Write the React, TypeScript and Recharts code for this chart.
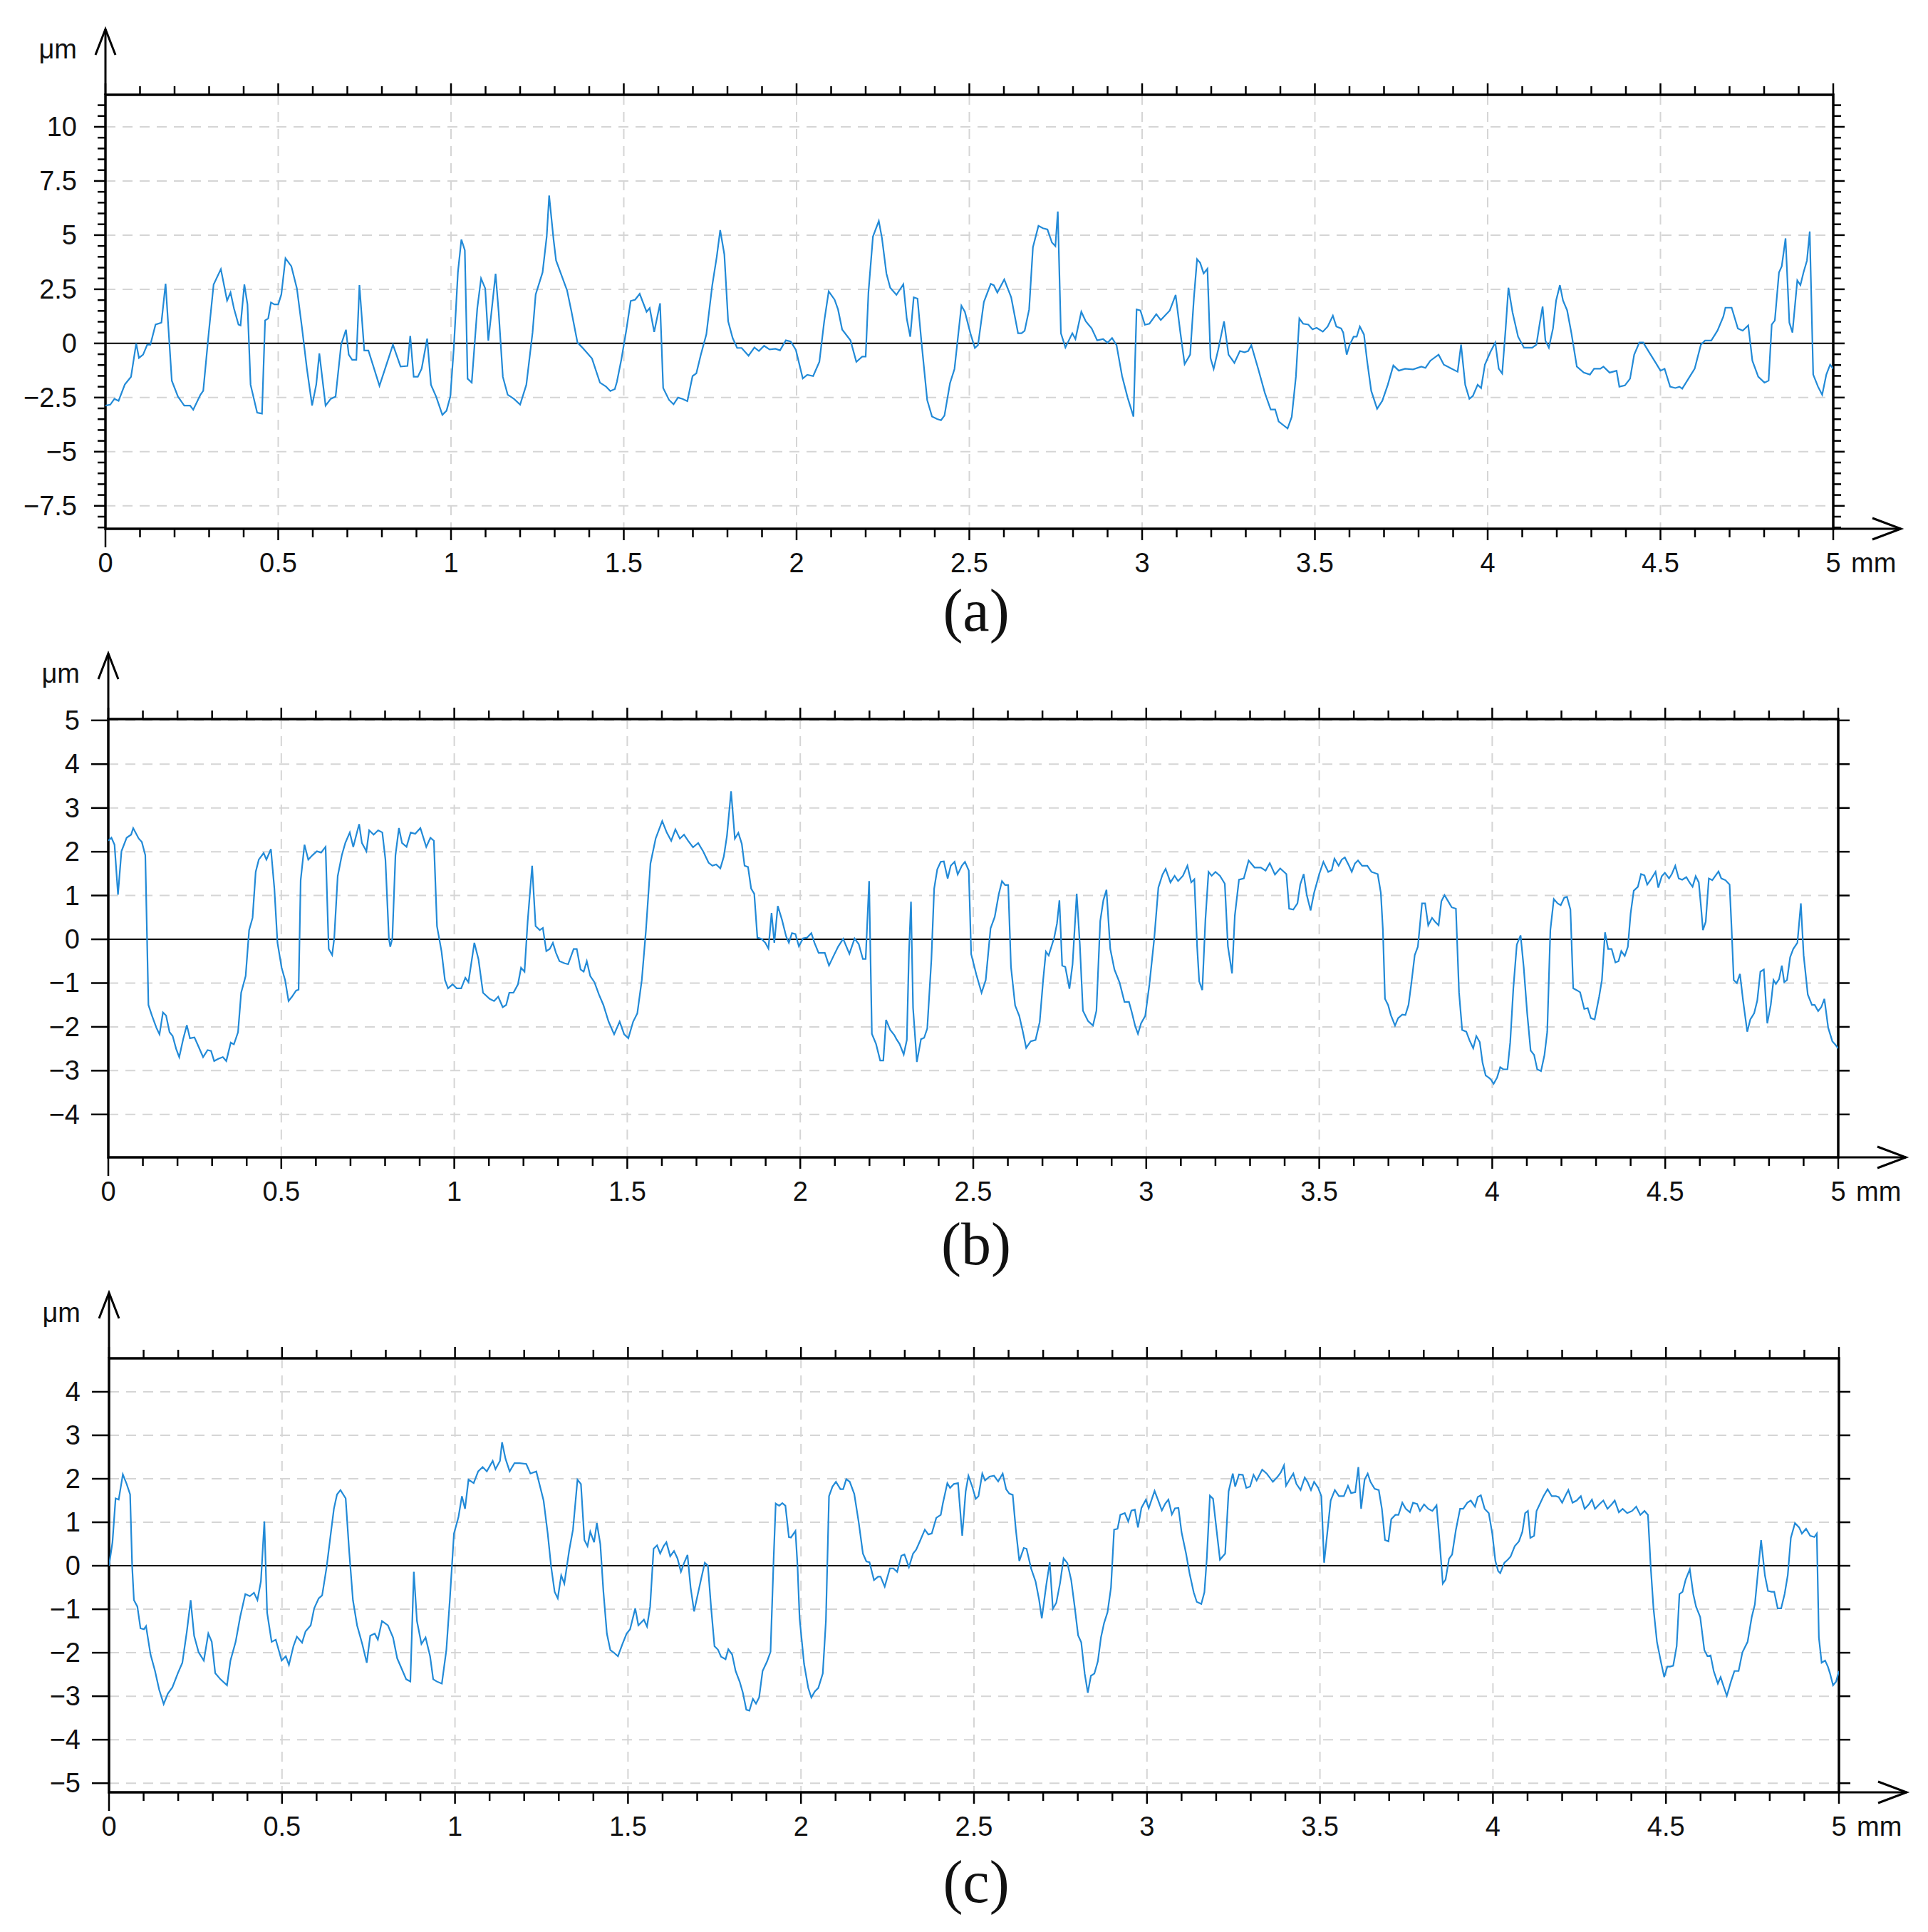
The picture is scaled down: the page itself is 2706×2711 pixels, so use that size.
import React from 'react';
import { LineChart, Line, XAxis, YAxis, CartesianGrid, ReferenceLine, ReferenceArea } from 'recharts';

// ---------------- data ----------------
const xA = [0,0.014,0.026,0.038,0.056,0.074,0.089,0.097,0.109,0.121,0.13,0.145,0.162,0.174,0.192,0.21,0.228,0.245,0.254,0.275,0.283,0.299,0.313,0.334,0.352,0.362,0.372,0.385,0.391,0.402,0.411,0.42,0.439,0.453,0.462,0.471,0.479,0.489,0.5,0.509,0.521,0.538,0.554,0.569,0.583,0.598,0.61,0.619,0.637,0.652,0.666,0.682,0.696,0.704,0.714,0.726,0.735,0.749,0.761,0.793,0.815,0.832,0.854,0.874,0.882,0.892,0.904,0.915,0.931,0.942,0.957,0.975,0.987,0.998,1.008,1.02,1.03,1.04,1.048,1.06,1.076,1.087,1.099,1.108,1.117,1.129,1.138,1.15,1.164,1.182,1.2,1.218,1.236,1.245,1.265,1.277,1.284,1.297,1.304,1.321,1.336,1.348,1.366,1.383,1.408,1.431,1.449,1.461,1.474,1.48,1.493,1.507,1.52,1.533,1.546,1.566,1.575,1.588,1.605,1.614,1.631,1.644,1.657,1.67,1.684,1.699,1.71,1.723,1.739,1.756,1.769,1.779,1.791,1.802,1.815,1.828,1.841,1.861,1.878,1.891,1.906,1.922,1.939,1.952,1.969,1.983,1.998,2.018,2.031,2.048,2.066,2.08,2.093,2.11,2.12,2.132,2.156,2.173,2.19,2.2,2.208,2.221,2.238,2.247,2.26,2.271,2.289,2.309,2.319,2.329,2.339,2.35,2.361,2.378,2.392,2.407,2.418,2.428,2.444,2.457,2.477,2.487,2.503,2.516,2.525,2.542,2.562,2.571,2.581,2.601,2.621,2.641,2.651,2.66,2.673,2.684,2.7,2.713,2.726,2.739,2.749,2.756,2.765,2.778,2.798,2.807,2.824,2.837,2.854,2.87,2.887,2.9,2.913,2.926,2.942,2.958,2.975,2.984,2.995,3.008,3.021,3.041,3.054,3.08,3.097,3.11,3.123,3.139,3.15,3.159,3.168,3.178,3.189,3.198,3.207,3.22,3.237,3.25,3.267,3.283,3.296,3.307,3.316,3.336,3.355,3.372,3.385,3.395,3.421,3.433,3.445,3.455,3.466,3.481,3.493,3.505,3.523,3.537,3.552,3.562,3.576,3.582,3.592,3.6,3.612,3.621,3.63,3.642,3.651,3.663,3.68,3.695,3.711,3.727,3.743,3.761,3.784,3.808,3.82,3.834,3.858,3.873,3.891,3.913,3.923,3.935,3.947,3.957,3.971,3.981,3.992,4.008,4.022,4.032,4.042,4.052,4.06,4.072,4.088,4.105,4.129,4.141,4.151,4.159,4.167,4.177,4.189,4.198,4.209,4.218,4.23,4.242,4.258,4.278,4.296,4.308,4.326,4.335,4.353,4.373,4.381,4.397,4.412,4.424,4.439,4.45,4.468,4.486,4.5,4.512,4.528,4.543,4.555,4.563,4.581,4.599,4.617,4.629,4.647,4.665,4.682,4.688,4.706,4.724,4.738,4.754,4.766,4.783,4.801,4.813,4.822,4.831,4.843,4.851,4.862,4.873,4.882,4.896,4.905,4.914,4.924,4.932,4.942,4.956,4.968,4.98,4.991,5.0];
const yA = [-2.87,-2.83,-2.56,-2.65,-1.9,-1.54,0,-0.67,-0.52,-0.06,-0.06,0.87,0.96,2.76,-1.72,-2.46,-2.87,-2.87,-3.06,-2.37,-2.19,0.5,2.72,3.43,1.98,2.35,1.61,0.87,0.83,2.72,1.8,-1.91,-3.2,-3.24,1.06,1.15,1.89,1.8,1.8,2.26,3.93,3.56,2.54,0.69,-1.17,-2.87,-1.9,-0.46,-2.87,-2.56,-2.46,-0.06,0.63,-0.52,-0.76,-0.76,2.69,-0.33,-0.33,-1.96,-0.89,-0.06,-1.07,-1.04,0.35,-1.54,-1.54,-1.17,0.22,-1.91,-2.46,-3.3,-3.11,-2.46,-0.24,3.28,4.8,4.3,-1.63,-1.81,1.61,3.0,2.54,0.13,1.43,3.22,1.43,-1.54,-2.37,-2.56,-2.83,-1.91,0.5,2.26,3.28,4.94,6.83,4.76,3.83,3.09,2.44,1.52,0.04,-0.24,-0.7,-1.81,-2.0,-2.2,-2.11,-1.78,-0.74,0.58,1.96,2.02,2.29,1.46,1.63,0.53,1.85,-2.06,-2.61,-2.81,-2.5,-2.56,-2.67,-1.51,-1.38,-0.52,0.42,2.68,4.0,5.23,4.11,1.02,0.25,-0.21,-0.21,-0.57,-0.19,-0.35,-0.11,-0.28,-0.25,-0.32,0.14,0.09,-0.3,-1.62,-1.45,-1.51,-0.85,1.02,2.4,2.02,1.57,0.64,0.14,-0.85,-0.61,-0.61,2.35,4.93,5.65,4.88,3.23,2.57,2.24,2.73,1.13,0.31,2.13,2.07,0.14,-2.61,-3.38,-3.49,-3.55,-3.33,-1.84,-1.18,1.74,1.46,0.47,-0.21,-0.08,1.91,2.75,2.68,2.35,2.95,2.13,0.47,0.47,0.58,1.57,4.44,5.43,5.32,5.26,4.66,4.49,6.09,0.47,-0.19,0.47,0.2,1.46,1.02,0.69,0.14,0.2,0.03,0.25,-0.08,-1.51,-2.5,-3.38,1.57,1.52,0.86,0.91,1.35,1.08,1.52,2.24,0.58,-0.96,-0.52,2.13,3.89,3.72,3.23,3.45,-0.68,-1.18,-0.3,1.02,-0.52,-0.9,-0.35,-0.41,-0.35,-0.08,-1.18,-2.28,-3.05,-3.05,-3.6,-3.93,-3.39,-1.54,1.15,0.91,0.87,0.65,0.72,0.54,0.78,1.28,0.78,0.69,0.5,-0.52,-0.09,0.31,0.31,0.78,0.41,-0.8,-2.19,-3.02,-2.65,-1.91,-1.02,-1.26,-1.17,-1.2,-1.07,-1.13,-0.8,-0.52,-0.98,-1.13,-1.31,-0.06,-1.91,-2.56,-2.43,-1.91,-2.06,-0.98,-0.39,0.04,-1.17,-1.39,0.69,2.57,1.43,0.31,-0.2,-0.2,-0.06,0.96,1.7,0.13,-0.2,0.69,1.98,2.69,1.98,1.52,0.5,-1.07,-1.35,-1.44,-1.17,-1.17,-1.07,-1.35,-1.26,-2.0,-1.94,-1.63,-0.52,0.04,0.04,-0.43,-0.89,-1.26,-1.17,-2.0,-2.06,-2.0,-2.09,-1.63,-1.17,-0.06,0.13,0.13,0.59,1.24,1.65,1.65,0.69,0.59,0.83,-0.8,-1.54,-1.81,-1.72,0.87,1.06,3.28,3.56,4.85,0.96,0.5,2.91,2.69,3.28,3.83,5.17,-1.44,-2.0,-2.37,-1.44,-0.98,-1.17];

const xB = [0,0.009,0.018,0.028,0.038,0.053,0.066,0.072,0.088,0.097,0.107,0.116,0.126,0.139,0.148,0.158,0.167,0.177,0.186,0.196,0.205,0.217,0.227,0.236,0.249,0.258,0.274,0.287,0.297,0.306,0.318,0.331,0.341,0.354,0.363,0.375,0.384,0.397,0.407,0.417,0.426,0.435,0.449,0.457,0.47,0.48,0.489,0.501,0.511,0.521,0.531,0.543,0.55,0.556,0.567,0.578,0.59,0.603,0.615,0.628,0.637,0.647,0.653,0.663,0.675,0.685,0.698,0.708,0.717,0.725,0.733,0.746,0.754,0.767,0.78,0.792,0.801,0.811,0.815,0.821,0.83,0.84,0.849,0.862,0.874,0.887,0.902,0.919,0.931,0.941,0.95,0.963,0.973,0.982,0.995,1.007,1.02,1.032,1.041,1.058,1.07,1.083,1.102,1.115,1.127,1.14,1.15,1.159,1.171,1.184,1.193,1.203,1.212,1.225,1.235,1.247,1.256,1.266,1.276,1.285,1.294,1.304,1.319,1.329,1.345,1.354,1.365,1.374,1.383,1.393,1.405,1.418,1.431,1.446,1.462,1.478,1.491,1.503,1.517,1.529,1.542,1.554,1.567,1.582,1.601,1.614,1.627,1.639,1.652,1.664,1.676,1.69,1.705,1.72,1.735,1.746,1.757,1.769,1.779,1.788,1.8,1.811,1.821,1.831,1.839,1.849,1.858,1.867,1.876,1.888,1.899,1.908,1.917,1.925,1.935,1.947,1.959,1.967,1.976,1.986,1.996,2.008,2.02,2.032,2.041,2.053,2.071,2.083,2.095,2.11,2.124,2.142,2.157,2.169,2.181,2.189,2.199,2.207,2.219,2.231,2.24,2.248,2.26,2.272,2.278,2.287,2.299,2.308,2.314,2.32,2.326,2.337,2.349,2.358,2.367,2.379,2.387,2.396,2.406,2.415,2.426,2.435,2.446,2.455,2.467,2.476,2.487,2.494,2.509,2.524,2.536,2.55,2.562,2.574,2.583,2.592,2.601,2.609,2.621,2.633,2.643,2.653,2.666,2.68,2.692,2.702,2.71,2.718,2.734,2.742,2.749,2.757,2.766,2.778,2.787,2.799,2.808,2.817,2.832,2.846,2.856,2.867,2.876,2.885,2.896,2.908,2.923,2.937,2.95,2.958,2.968,2.976,2.985,2.997,3.009,3.023,3.035,3.047,3.056,3.07,3.082,3.092,3.106,3.119,3.13,3.139,3.147,3.153,3.162,3.171,3.18,3.189,3.2,3.213,3.227,3.236,3.248,3.256,3.268,3.282,3.296,3.313,3.331,3.345,3.357,3.372,3.387,3.405,3.413,3.425,3.437,3.445,3.455,3.464,3.475,3.485,3.5,3.512,3.526,3.536,3.544,3.556,3.565,3.574,3.586,3.594,3.603,3.612,3.624,3.639,3.651,3.669,3.678,3.684,3.69,3.699,3.707,3.719,3.728,3.74,3.749,3.758,3.766,3.776,3.785,3.797,3.806,3.815,3.826,3.835,3.845,3.853,3.862,3.871,3.883,3.895,3.904,3.913,3.925,3.934,3.945,3.954,3.964,3.972,3.981,3.99,3.996,4.004,4.014,4.023,4.032,4.044,4.052,4.061,4.071,4.082,4.091,4.101,4.111,4.121,4.13,4.141,4.151,4.159,4.168,4.178,4.189,4.198,4.208,4.216,4.226,4.234,4.246,4.254,4.266,4.276,4.285,4.296,4.309,4.317,4.326,4.335,4.345,4.356,4.365,4.373,4.383,4.392,4.4,4.409,4.421,4.43,4.44,4.448,4.458,4.472,4.48,4.49,4.499,4.511,4.519,4.529,4.539,4.549,4.561,4.57,4.579,4.588,4.597,4.603,4.609,4.617,4.626,4.636,4.644,4.654,4.662,4.674,4.686,4.692,4.698,4.707,4.716,4.725,4.737,4.746,4.757,4.766,4.775,4.785,4.795,4.805,4.813,4.82,4.829,4.837,4.844,4.852,4.861,4.87,4.882,4.892,4.9,4.912,4.924,4.932,4.942,4.951,4.96,4.971,4.983,4.991,5.0];
const yB = [2.25,2.32,2.16,1.02,2.01,2.32,2.39,2.54,2.3,2.22,1.92,-1.5,-1.74,-2.02,-2.17,-1.67,-1.74,-2.12,-2.21,-2.5,-2.69,-2.26,-1.96,-2.26,-2.24,-2.4,-2.69,-2.53,-2.55,-2.78,-2.73,-2.69,-2.78,-2.36,-2.4,-2.12,-1.22,-0.84,0.21,0.49,1.54,1.82,1.97,1.82,2.06,1.16,-0.08,-0.65,-0.93,-1.41,-1.31,-1.17,-1.15,1.35,2.16,1.82,1.92,2.01,1.98,2.11,-0.22,-0.36,0.02,1.44,1.92,2.2,2.44,2.11,2.39,2.63,2.2,2.01,2.49,2.39,2.49,2.44,1.82,0.02,-0.17,0.02,1.92,2.54,2.2,2.11,2.44,2.41,2.54,2.11,2.32,2.25,0.3,-0.27,-0.93,-1.12,-1.03,-1.12,-1.12,-0.88,-0.98,-0.08,-0.46,-1.22,-1.36,-1.41,-1.31,-1.55,-1.5,-1.22,-1.22,-1.03,-0.65,-0.74,0.4,1.68,0.3,0.21,0.26,-0.27,-0.22,-0.08,-0.31,-0.5,-0.55,-0.57,-0.22,-0.22,-0.69,-0.74,-0.5,-0.84,-0.98,-1.26,-1.5,-1.88,-2.17,-1.88,-2.17,-2.26,-1.88,-1.69,-0.93,0.21,1.73,2.3,2.7,2.44,2.25,2.51,2.3,2.39,2.25,2.1,2.2,2.0,1.75,1.68,1.71,1.62,1.89,2.36,3.38,2.3,2.43,2.18,1.68,1.65,1.16,1.04,0.04,0.01,-0.08,-0.21,0.6,-0.08,0.76,0.45,0.07,-0.08,0.14,0.12,-0.16,0.02,0.04,0.14,-0.08,-0.31,-0.31,-0.6,-0.4,-0.16,0.01,-0.33,0.02,-0.11,-0.45,-0.45,1.33,-2.16,-2.39,-2.77,-2.77,-1.84,-2.07,-2.19,-2.28,-2.39,-2.63,-2.3,-0.34,0.86,-1.57,-2.8,-2.28,-2.25,-2.04,-0.46,1.16,1.6,1.77,1.78,1.39,1.68,1.77,1.48,1.68,1.77,1.57,-0.34,-0.81,-1.22,-0.93,0.25,0.51,1.04,1.33,1.24,1.24,-0.63,-1.51,-1.75,-2.1,-2.48,-2.33,-2.3,-1.89,-0.93,-0.28,-0.37,0.04,0.36,0.89,-0.6,-0.63,-1.13,-0.57,1.04,-0.11,-1.63,-1.87,-1.97,-1.63,0.42,0.89,1.13,-0.22,-0.69,-0.99,-1.43,-1.43,-1.66,-1.98,-2.16,-1.92,-1.75,-1.04,0.01,1.18,1.48,1.61,1.3,1.45,1.33,1.45,1.68,1.3,1.37,-0.16,-0.96,-1.16,0.45,1.54,1.45,1.54,1.45,1.27,-0.16,-0.78,0.54,1.36,1.39,1.8,1.64,1.64,1.57,1.74,1.48,1.62,1.49,0.7,0.68,0.82,1.25,1.49,1.01,0.66,1.06,1.49,1.77,1.54,1.58,1.84,1.68,1.82,1.87,1.68,1.54,1.73,1.8,1.68,1.68,1.54,1.49,1.06,0.21,-1.36,-1.5,-1.73,-1.97,-1.8,-1.72,-1.73,-1.5,-1.02,-0.36,-0.17,0.82,0.82,0.32,0.49,0.4,0.32,0.87,1.01,0.89,0.73,0.7,-1.21,-2.07,-2.11,-2.3,-2.49,-2.21,-2.35,-2.82,-3.11,-3.16,-3.2,-3.3,-3.16,-2.92,-2.97,-2.97,-2.35,-1.12,-0.12,0.09,-0.64,-1.69,-2.54,-2.64,-2.97,-3.01,-2.64,-2.11,0.21,0.92,0.82,0.78,0.95,0.97,0.68,-1.12,-1.17,-1.21,-1.59,-1.57,-1.8,-1.83,-1.31,-0.93,0.16,-0.22,-0.22,-0.53,-0.5,-0.27,-0.38,-0.17,0.59,1.11,1.2,1.49,1.46,1.25,1.36,1.54,1.18,1.44,1.52,1.39,1.49,1.68,1.39,1.36,1.42,1.3,1.2,1.44,1.3,0.78,0.21,0.4,1.39,1.35,1.44,1.55,1.39,1.35,1.25,0.21,-0.93,-1.0,-0.79,-1.4,-2.11,-1.83,-1.69,-1.4,-0.74,-0.69,-1.92,-1.5,-0.93,-1.02,-0.91,-0.6,-0.98,-0.93,-0.41,-0.22,-0.08,0.82,-0.36,-1.26,-1.5,-1.5,-1.64,-1.55,-1.36,-2.02,-2.33,-2.4,-2.49];

const xC = [0,0.01,0.019,0.028,0.04,0.051,0.061,0.067,0.072,0.082,0.091,0.101,0.107,0.12,0.133,0.145,0.158,0.17,0.183,0.199,0.212,0.225,0.236,0.246,0.259,0.274,0.287,0.297,0.307,0.322,0.341,0.351,0.366,0.379,0.394,0.407,0.419,0.429,0.439,0.449,0.457,0.47,0.482,0.499,0.511,0.52,0.533,0.543,0.558,0.568,0.583,0.593,0.606,0.616,0.629,0.641,0.65,0.659,0.669,0.684,0.694,0.705,0.717,0.732,0.745,0.755,0.768,0.777,0.789,0.806,0.821,0.833,0.846,0.859,0.871,0.881,0.89,0.903,0.915,0.928,0.937,0.947,0.962,0.975,0.985,0.997,1.01,1.02,1.029,1.039,1.054,1.067,1.08,1.092,1.109,1.117,1.13,1.136,1.146,1.158,1.172,1.187,1.206,1.218,1.235,1.244,1.256,1.268,1.278,1.288,1.297,1.307,1.316,1.33,1.341,1.354,1.364,1.374,1.383,1.391,1.402,1.41,1.42,1.429,1.439,1.449,1.458,1.471,1.484,1.496,1.506,1.521,1.53,1.546,1.555,1.564,1.574,1.584,1.593,1.603,1.611,1.622,1.633,1.643,1.653,1.662,1.672,1.681,1.691,1.7,1.712,1.722,1.731,1.74,1.75,1.76,1.769,1.782,1.79,1.801,1.811,1.823,1.832,1.842,1.851,1.861,1.87,1.879,1.889,1.902,1.912,1.921,1.927,1.937,1.946,1.955,1.965,1.971,1.984,1.99,1.996,2.009,2.021,2.03,2.04,2.05,2.063,2.072,2.081,2.091,2.101,2.114,2.122,2.131,2.141,2.154,2.167,2.179,2.189,2.198,2.211,2.223,2.23,2.242,2.257,2.267,2.278,2.29,2.299,2.312,2.324,2.333,2.343,2.358,2.368,2.378,2.391,2.404,2.41,2.423,2.431,2.442,2.454,2.466,2.476,2.484,2.495,2.505,2.513,2.524,2.532,2.545,2.558,2.57,2.583,2.593,2.602,2.612,2.621,2.631,2.644,2.652,2.665,2.678,2.688,2.696,2.709,2.719,2.728,2.738,2.749,2.759,2.77,2.781,2.791,2.801,2.81,2.82,2.829,2.838,2.848,2.858,2.867,2.876,2.886,2.896,2.905,2.915,2.923,2.936,2.946,2.955,2.965,2.974,2.984,2.997,3.005,3.022,3.033,3.043,3.053,3.062,3.072,3.081,3.091,3.1,3.113,3.123,3.135,3.144,3.157,3.166,3.173,3.182,3.191,3.201,3.211,3.226,3.236,3.248,3.255,3.266,3.277,3.287,3.298,3.308,3.317,3.333,3.346,3.364,3.377,3.387,3.396,3.402,3.412,3.423,3.432,3.444,3.456,3.464,3.474,3.483,3.495,3.504,3.512,3.521,3.531,3.543,3.555,3.569,3.581,3.59,3.602,3.611,3.619,3.629,3.638,3.646,3.658,3.67,3.679,3.688,3.698,3.706,3.718,3.727,3.738,3.748,3.76,3.769,3.781,3.789,3.801,3.813,3.825,3.837,3.846,3.855,3.863,3.873,3.882,3.893,3.905,3.914,3.926,3.936,3.948,3.956,3.965,3.976,3.988,3.998,4.007,4.015,4.021,4.033,4.043,4.051,4.063,4.075,4.085,4.093,4.101,4.108,4.119,4.126,4.135,4.146,4.158,4.17,4.182,4.19,4.2,4.21,4.218,4.23,4.242,4.254,4.265,4.277,4.286,4.295,4.307,4.319,4.331,4.343,4.352,4.364,4.375,4.388,4.402,4.414,4.426,4.438,4.448,4.456,4.464,4.474,4.486,4.495,4.504,4.512,4.521,4.531,4.539,4.548,4.557,4.569,4.579,4.587,4.599,4.611,4.62,4.629,4.638,4.65,4.658,4.667,4.676,4.688,4.698,4.71,4.721,4.736,4.748,4.757,4.765,4.775,4.786,4.795,4.805,4.813,4.823,4.833,4.843,4.852,4.861,4.873,4.885,4.893,4.905,4.917,4.929,4.936,4.942,4.95,4.96,4.968,4.974,4.983,4.992,5.0];
const yC = [0,0.54,1.55,1.52,2.1,1.88,1.64,-0.03,-0.79,-0.94,-1.44,-1.46,-1.39,-2.04,-2.42,-2.85,-3.18,-2.94,-2.8,-2.47,-2.23,-1.51,-0.79,-1.61,-1.99,-2.18,-1.56,-1.75,-2.47,-2.61,-2.75,-2.18,-1.75,-1.18,-0.65,-0.7,-0.62,-0.79,-0.36,1.02,-1.08,-1.75,-1.7,-2.18,-2.08,-2.28,-1.85,-1.63,-1.77,-1.51,-1.37,-0.98,-0.75,-0.68,-0.03,0.74,1.31,1.64,1.74,1.55,0.35,-0.79,-1.37,-1.8,-2.23,-1.61,-1.56,-1.7,-1.27,-1.37,-1.65,-2.13,-2.37,-2.61,-2.66,-0.14,-1.27,-1.8,-1.65,-2.08,-2.61,-2.66,-2.71,-1.94,-0.79,0.74,1.12,1.6,1.31,1.98,1.9,2.17,2.27,2.17,2.41,2.22,2.41,2.84,2.46,2.17,2.36,2.36,2.34,2.12,2.17,1.88,1.5,0.74,-0.03,-0.6,-0.75,-0.22,-0.41,0.35,0.83,1.98,1.88,0.59,0.45,0.78,0.54,0.98,0.5,-0.6,-1.56,-1.94,-1.99,-2.08,-1.8,-1.56,-1.46,-0.98,-1.37,-1.24,-1.4,-0.94,0.39,0.47,0.28,0.45,0.54,0.22,0.34,0.17,-0.14,0.06,0.25,-0.5,-1.05,-0.72,-0.28,0.07,0,-0.94,-1.85,-1.93,-2.09,-2.15,-1.92,-2.04,-2.42,-2.67,-2.92,-3.31,-3.33,-3.06,-3.17,-3.03,-2.42,-2.2,-1.98,0.17,1.43,1.38,1.44,1.38,0.66,0.65,0.8,0,-1.21,-2.26,-2.81,-3.03,-2.89,-2.81,-2.48,-1.27,1.6,1.82,1.93,1.76,1.76,1.99,1.93,1.65,0.99,0.28,0.1,0.08,-0.33,-0.25,-0.25,-0.48,-0.06,-0.06,-0.14,0.23,0.26,-0.03,0.28,0.37,0.55,0.83,0.72,0.74,1.1,1.17,1.43,1.9,1.79,1.88,1.9,0.69,1.71,2.07,1.82,1.54,1.6,2.12,1.96,2.05,2.07,1.94,2.12,1.76,1.66,1.63,0.83,0.11,0.41,0.39,-0.06,-0.36,-0.77,-1.21,-0.44,0.08,-0.99,-0.85,-0.39,0.17,0.06,-0.33,-0.94,-1.6,-1.76,-2.48,-2.92,-2.53,-2.48,-2.2,-1.65,-1.32,-1.07,-0.5,0.83,0.85,1.17,1.21,1.02,1.27,1.29,0.88,1.33,1.52,1.32,1.72,1.49,1.27,1.43,1.52,1.18,1.32,1.33,0.77,0.28,-0.17,-0.61,-0.83,-0.88,-0.61,0.17,1.61,1.54,0.83,0.14,0.28,1.71,2.12,1.82,2.1,2.09,1.79,1.82,2.09,1.96,2.21,2.12,1.93,2.04,2.15,2.31,1.84,1.98,2.12,1.88,1.74,2.03,1.93,1.74,1.93,1.79,1.6,0.07,0.74,1.5,1.74,1.6,1.6,1.84,1.67,1.69,2.27,1.31,1.98,2.12,1.93,1.77,1.74,1.31,0.59,0.56,1.07,1.17,1.17,1.45,1.31,1.23,1.45,1.42,1.26,1.41,1.31,1.26,1.39,0.54,-0.41,-0.32,0.16,0.26,0.83,1.31,1.31,1.45,1.5,1.36,1.58,1.62,1.31,1.21,0.74,0.11,-0.12,-0.17,0.07,0.14,0.21,0.45,0.56,0.78,1.21,1.26,0.64,0.69,1.26,1.41,1.6,1.76,1.6,1.6,1.58,1.45,1.62,1.74,1.45,1.5,1.6,1.31,1.41,1.52,1.31,1.41,1.5,1.31,1.41,1.5,1.23,1.31,1.21,1.26,1.36,1.17,1.26,1.17,-0.03,-0.98,-1.75,-2.23,-2.56,-2.32,-2.32,-2.3,-1.85,-0.65,-0.6,-0.32,-0.08,-0.65,-0.94,-1.18,-1.94,-2.08,-2.06,-2.42,-2.71,-2.56,-2.78,-2.99,-2.66,-2.42,-2.42,-1.99,-1.75,-1.18,-0.89,-0.22,0.59,-0.22,-0.58,-0.6,-0.6,-0.98,-0.98,-0.65,-0.22,0.64,0.98,0.88,0.74,0.85,0.69,0.66,0.74,-1.65,-2.23,-2.18,-2.32,-2.47,-2.75,-2.66,-2.42];

// ticks & labels
const xMajorTicks = [0, 0.5, 1, 1.5, 2, 2.5, 3, 3.5, 4, 4.5, 5];
const yMajorTicksA = [-7.5, -5, -2.5, 0, 2.5, 5, 7.5, 10];
const yMajorTicksB = [-4, -3, -2, -1, 0, 1, 2, 3, 4, 5];
const yMajorTicksC = [-5, -4, -3, -2, -1, 0, 1, 2, 3, 4];
const panelLabels = ['(a)', '(b)', '(c)'];
const xUnit = 'mm';
const yUnit = 'μm';

// ---------------- layout / style ----------------
const W = 2706;
const H = 2711;
const LINE_COLOR = '#228ad7';
const GRID_COLOR = '#d5d5d5';
const SANS = '"Liberation Sans", Arial, Helvetica, sans-serif';
const SERIF = '"Palatino Linotype", Palatino, "Book Antiqua", "Liberation Serif", "DejaVu Serif", serif';
const FS = 38;
const AX = 1; // axis band size (must be > 0 so Recharts draws the ticks)

const xAllTicks: number[] = [];
for (let i = 0; i <= 50; i++) xAllTicks.push(Math.round(i * 10) / 100);

function rangeTicks(lo: number, hi: number, step: number) {
  const out: number[] = [];
  const n0 = Math.ceil(lo / step - 1e-9);
  const n1 = Math.floor(hi / step + 1e-9);
  for (let n = n0; n <= n1; n++) out.push(Math.round(n * step * 1000) / 1000);
  return out;
}

const isIn = (arr: number[], v: number) => arr.some((m) => Math.abs(m - v) < 1e-6);
const fmt = (v: number) => String(v).replace('-', '\u2212');

type Panel = {
  data: { x: number; y: number }[];
  yDomain: [number, number];
  yMajor: number[];
  yMinorStep: number;
  chartTop: number;
  chartHeight: number;
  plot: { left: number; right: number; top: number; bottom: number };
  yTickMajorLen: number;
  yTickMinorLen: number;
  label: string;
  labelY: number;
};

const mk = (xs: number[], ys: number[]) => xs.map((x, i) => ({ x, y: ys[i] }));

const panels: Panel[] = [
  {
    data: mk(xA, yA),
    yDomain: [-8.56, 11.48],
    yMajor: yMajorTicksA,
    yMinorStep: 0.5,
    chartTop: 0,
    chartHeight: 900,
    plot: { left: 148, right: 2573, top: 133, bottom: 742 },
    yTickMajorLen: 16,
    yTickMinorLen: 11,
    label: panelLabels[0],
    labelY: 857,
  },
  {
    data: mk(xB, yB),
    yDomain: [-4.98, 5.03],
    yMajor: yMajorTicksB,
    yMinorStep: 1,
    chartTop: 900,
    chartHeight: 900,
    plot: { left: 152, right: 2580, top: 1009, bottom: 1624 },
    yTickMajorLen: 24,
    yTickMinorLen: 24,
    label: panelLabels[1],
    labelY: 1746,
  },
  {
    data: mk(xC, yC),
    yDomain: [-5.21, 4.77],
    yMajor: yMajorTicksC,
    yMinorStep: 1,
    chartTop: 1800,
    chartHeight: 911,
    plot: { left: 153, right: 2581, top: 1906, bottom: 2515 },
    yTickMajorLen: 24,
    yTickMinorLen: 24,
    label: panelLabels[2],
    labelY: 2641,
  },
];

function PanelChart({ p }: { p: Panel }) {
  const T = p.plot.top - p.chartTop;
  const B = p.plot.bottom - p.chartTop;
  const L = p.plot.left;
  const R = p.plot.right;
  const yTicks = rangeTicks(p.yDomain[0], p.yDomain[1], p.yMinorStep);

  const XTick = (props: any) => {
    const { x, payload } = props;
    const v = payload.value as number;
    const major = isIn(xMajorTicks, v);
    const isZero = Math.abs(v) < 1e-6;
    const isEnd = Math.abs(v - 5) < 1e-6;
    const lenB = isZero ? 26 : major ? 16 : 12;
    const lenT = major ? 16 : 12;
    return (
      <g>
        <line x1={x} y1={B} x2={x} y2={B + lenB} stroke="#000" strokeWidth={2.5} />
        <line x1={x} y1={T} x2={x} y2={T - lenT} stroke="#000" strokeWidth={2.5} />
        {major && (
          <text x={x} y={B + 48} textAnchor="middle" dominantBaseline="central" fontFamily={SANS} fontSize={FS} fill="#111">
            {fmt(v)}
          </text>
        )}
        {isEnd && (
          <text x={x + 25} y={B + 48} textAnchor="start" dominantBaseline="central" fontFamily={SANS} fontSize={FS} fill="#111">
            {xUnit}
          </text>
        )}
        {isZero && (
          <g>
            <line x1={x} y1={T} x2={x} y2={T - 92} stroke="#000" strokeWidth={3} />
            <polyline points={`${x - 14},${T - 56} ${x},${T - 92} ${x + 14},${T - 56}`} fill="none" stroke="#000" strokeWidth={3} />
            <text x={x - 40} y={T - 64} textAnchor="end" dominantBaseline="central" fontFamily={SANS} fontSize={38} fill="#111">
              {yUnit}
            </text>
          </g>
        )}
        {isEnd && (
          <g>
            <line x1={x} y1={B} x2={x + 95} y2={B} stroke="#000" strokeWidth={3} />
            <polyline points={`${x + 55},${B - 15} ${x + 95},${B} ${x + 55},${B + 15}`} fill="none" stroke="#000" strokeWidth={3} />
          </g>
        )}
      </g>
    );
  };

  const YTick = (props: any) => {
    const { y, payload } = props;
    const v = payload.value as number;
    const major = isIn(p.yMajor, v);
    const lenL = major ? p.yTickMajorLen : p.yTickMinorLen;
    const lenR = major ? 16 : 11;
    return (
      <g>
        <line x1={L - lenL} y1={y} x2={L} y2={y} stroke="#000" strokeWidth={2.5} />
        <line x1={R} y1={y} x2={R + lenR} y2={y} stroke="#000" strokeWidth={2.5} />
        {major && (
          <text x={L - 40} y={y} textAnchor="end" dominantBaseline="central" fontFamily={SANS} fontSize={FS} fill="#111">
            {fmt(v)}
          </text>
        )}
      </g>
    );
  };

  return (
    <div style={{ position: 'absolute', left: 0, top: p.chartTop, width: W, height: p.chartHeight }}>
      <LineChart
        width={W}
        height={p.chartHeight}
        data={p.data}
        margin={{ top: T, left: L - AX, right: W - R, bottom: p.chartHeight - B - AX }}
      >
        <CartesianGrid
          stroke={GRID_COLOR}
          strokeDasharray="14 10"
          strokeWidth={2}
          horizontalValues={p.yMajor.filter((v) => v !== 0)}
          verticalValues={xMajorTicks.filter((v) => v > 0 && v < 5)}
        />
        <XAxis
          type="number"
          dataKey="x"
          domain={[0, 5]}
          ticks={xAllTicks}
          interval={0}
          height={AX}
          axisLine={false}
          tickLine={false}
          tick={XTick}
          allowDataOverflow
        />
        <YAxis
          type="number"
          domain={p.yDomain}
          ticks={yTicks}
          interval={0}
          width={AX}
          axisLine={false}
          tickLine={false}
          tick={YTick}
          allowDataOverflow
        />
        <ReferenceLine y={0} stroke="#000" strokeWidth={2} ifOverflow="visible" />
        <Line type="linear" dataKey="y" stroke={LINE_COLOR} strokeWidth={2.2} dot={false} isAnimationActive={false} />
        <ReferenceArea x1={0} x2={5} y1={p.yDomain[0]} y2={p.yDomain[1]} fill="none" fillOpacity={0} stroke="#000" strokeWidth={3.5} ifOverflow="visible" />
      </LineChart>
    </div>
  );
}

export default function App() {
  return (
    <div style={{ position: 'absolute', left: 0, top: 0, width: W, height: H, background: '#fff', overflow: 'hidden' }}>
      {panels.map((p, i) => (
        <PanelChart key={i} p={p} />
      ))}
      {panels.map((p, i) => (
        <div
          key={'l' + i}
          style={{
            position: 'absolute',
            left: 0,
            width: 2740,
            top: p.labelY - 50,
            height: 100,
            lineHeight: '100px',
            textAlign: 'center',
            fontFamily: SERIF,
            fontSize: 84,
            color: '#111',
          }}
        >
          {p.label}
        </div>
      ))}
    </div>
  );
}
